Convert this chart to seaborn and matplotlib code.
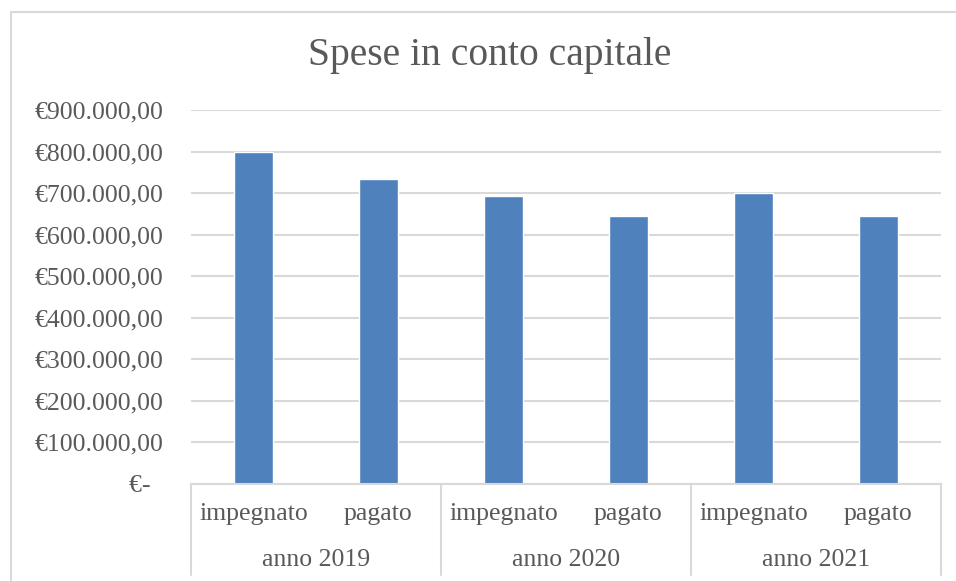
import matplotlib
matplotlib.use("Agg")
import matplotlib.pyplot as plt
from matplotlib.patches import Rectangle
from matplotlib.ticker import FuncFormatter
import seaborn as sns
import pandas as pd

# Data
years = ["anno 2019", "anno 2020", "anno 2021"]
voci = ["impegnato", "pagato"]
impegnato = [798000, 694000, 699000]
pagato = [733000, 644000, 645000]
y_ticks = [0, 100000, 200000, 300000, 400000, 500000, 600000, 700000, 800000, 900000]

rows = []
for i, anno in enumerate(years):
    rows.append({"cat": f"{anno}\n{voci[0]}", "anno": anno, "voce": voci[0], "valore": impegnato[i]})
    rows.append({"cat": f"{anno}\n{voci[1]}", "anno": anno, "voce": voci[1], "valore": pagato[i]})
df = pd.DataFrame(rows)

sns.set_theme(style="white")
plt.rcParams["font.family"] = ["Liberation Serif", "DejaVu Serif"]

TEXT = "#595959"
GRID = "#D9D9D9"
BAR = "#4F81BD"
FS = 18.5

fig = plt.figure(figsize=(9.56, 5.81), dpi=100)
ax = fig.add_axes([191 / 956, 1 - 483.7 / 581, (941 - 191) / 956, (483.7 - 110) / 581])

sns.barplot(data=df, x="cat", y="valore", color=BAR, width=0.31,
            saturation=1, ax=ax, errorbar=None)

ax.set_ylim(0, 900000)
ax.set_xlim(-0.5, len(df) - 0.5)
ax.set_yticks(y_ticks)


def euro(v, _pos):
    if v == 0:
        return "€-  "
    s = f"{v:,.2f}".replace(",", "X").replace(".", ",").replace("X", ".")
    return "€" + s


ax.yaxis.set_major_formatter(FuncFormatter(euro))
ax.yaxis.grid(True, color=GRID, linewidth=1.5)
ax.set_axisbelow(True)
for side in ["left", "right", "top"]:
    ax.spines[side].set_visible(False)
ax.spines["bottom"].set_color(GRID)
ax.spines["bottom"].set_linewidth(1.5)

ax.tick_params(axis="y", length=0, pad=20, labelsize=FS, labelcolor=TEXT)
ax.tick_params(axis="x", length=0, pad=14, labelsize=FS, labelcolor=TEXT)
ax.set_xticks(range(len(df)))
ax.set_xticklabels(df["voce"])
ax.set_xlabel("")
ax.set_ylabel("")

# Multi-level category axis: separators and year labels
bottom = -(575 - 483.7) / (483.7 - 110)
trans = ax.get_xaxis_transform()
for b in [-0.5, 1.5, 3.5, 5.5]:
    ax.plot([b, b], [0, bottom], transform=trans, color=GRID, lw=1.5, clip_on=False)
for i, anno in enumerate(years):
    ax.text(2 * i + 0.5, -(560 - 483.7) / (483.7 - 110), anno, transform=trans,
            ha="center", va="center", fontsize=FS, color=TEXT)

fig.text(490 / 956, 1 - 55 / 581, "Spese in conto capitale", ha="center", va="center",
         fontsize=28.5, color=TEXT)

# Chart area border
fig.add_artist(Rectangle((10.5 / 956, -0.1), 1.2, 1.1 - 12.5 / 581,
                         transform=fig.transFigure, fill=False,
                         edgecolor=GRID, linewidth=1.5))

fig.savefig("out.png", dpi=100, facecolor="white")
